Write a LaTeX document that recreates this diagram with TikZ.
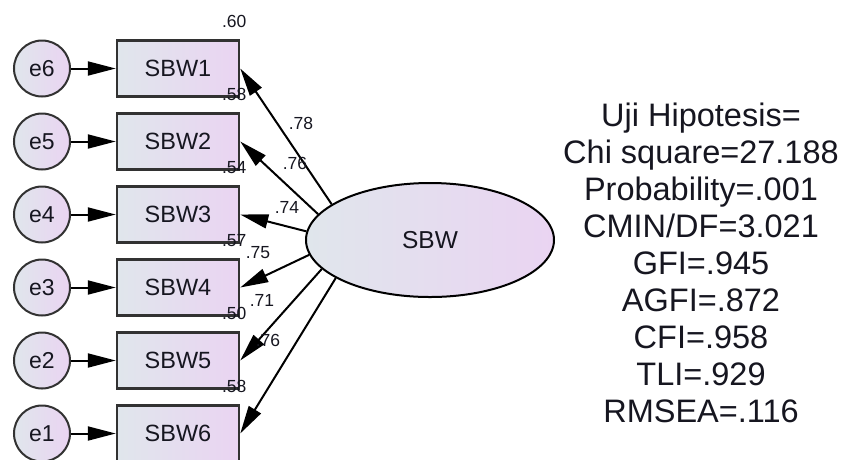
\documentclass[tikz,border=0pt]{standalone}
\usepackage{fontspec}
\setmainfont{Liberation Sans}
\usetikzlibrary{shapes.geometric,arrows.meta}
\definecolor{ink}{RGB}{22,22,32}
\definecolor{fillL}{RGB}{224,230,236}
\definecolor{fillR}{RGB}{234,212,242}
\definecolor{edgeG}{RGB}{50,50,50}
\begin{document}
\begin{tikzpicture}[x=1pt,y=-1pt,
  obs/.style={draw=edgeG,line width=2.5pt,left color=fillL,right color=fillR,
    minimum width=122pt,minimum height=56pt,inner sep=0pt,
    font=\fontsize{23.5}{26}\selectfont,text=ink},
  err/.style={circle,draw=edgeG,line width=2pt,left color=fillL,right color=fillR,
    minimum size=56pt,inner sep=0pt,font=\fontsize{23}{26}\selectfont,text=ink},
  lat/.style={ellipse,draw=black,line width=2pt,left color=fillL,right color=fillR,
    minimum width=248pt,minimum height=114pt,inner sep=0pt,
    font=\fontsize{24.5}{27}\selectfont,text=ink},
  regarrow/.style={draw=black,line width=2pt,-{Triangle[length=28pt,width=14pt]}},
  est/.style={font=\fontsize{17.5}{20}\selectfont,text=ink,inner sep=0pt},
  fitline/.style={font=\fontsize{32.5}{37}\selectfont,text=ink,inner sep=0pt,anchor=base}
]
\useasboundingbox (0,0) rectangle (845,459);

% latent variable
\node[lat] (sbw) at (430,240) {SBW};

% indicators and their error terms
\foreach \i/\e in {1/6,2/5,3/4,4/3,5/2,6/1} {
  \pgfmathsetmacro\yy{68.5+73*(\i-1)}
  \node[obs] (sbw\i) at (178,\yy) {SBW\i};
  \node[err] (e\e) at (42,\yy) {e\e};
  \draw[regarrow] (e\e) -- (sbw\i);
}

% factor loading paths
\foreach \i/\a in {1/160,2/167,3/176,4/187,5/195,6/202}
  \draw[regarrow] (sbw.\a) -- (sbw\i.east);

% squared multiple correlations
\foreach \i/\sq in {1/.60,2/.58,3/.54,4/.57,5/.50,6/.58}
  \node[est] (r\i) at ([xshift=-6pt,yshift=18pt]sbw\i.north east) {\sq};

% standardized loadings
\node[est] (l1) at (301,123) {.78};
\node[est] (l2) at (295,163) {.76};
\node[est] (l3) at (287,207) {.74};
\node[est] (l4) at (258,253) {.75};
\node[est] (l5) at (262,300) {.71};
\node[est] (l6) at (268,340) {.76};

% goodness of fit summary
\node[fitline] (f1) at (701,126.0) {Uji Hipotesis=};
\node[fitline] (f2) at (701,163.1) {Chi square=27.188};
\node[fitline] (f3) at (701,200.2) {Probability=.001};
\node[fitline] (f4) at (701,237.3) {CMIN/DF=3.021};
\node[fitline] (f5) at (701,274.4) {GFI=.945};
\node[fitline] (f6) at (701,311.5) {AGFI=.872};
\node[fitline] (f7) at (701,348.6) {CFI=.958};
\node[fitline] (f8) at (701,385.7) {TLI=.929};
\node[fitline] (f9) at (701,422.8) {RMSEA=.116};
\end{tikzpicture}
\end{document}
